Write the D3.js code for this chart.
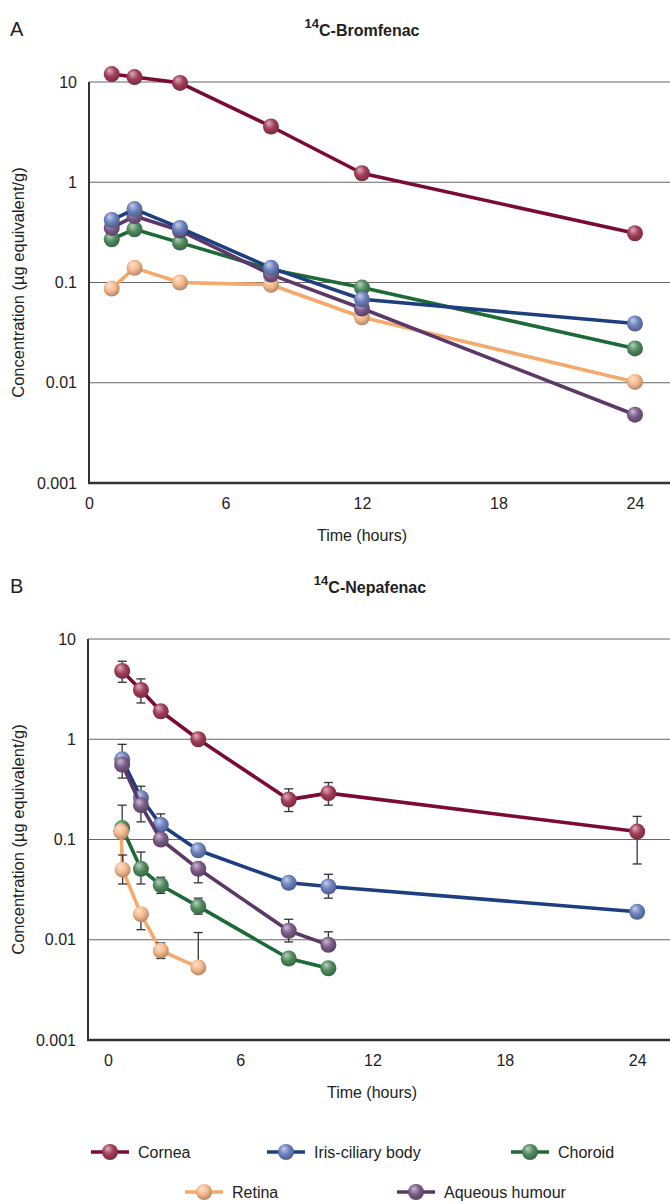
<!DOCTYPE html>
<html>
<head>
<meta charset="utf-8">
<script src="https://cdn.jsdelivr.net/npm/d3@7"></script>
<style>
  body { margin: 0; background: #fff; }
  text { font-family: "Liberation Sans", Arial, sans-serif; fill: #222; }
</style>
</head>
<body>
<svg id="chart" width="670" height="1204"></svg>
<script>
// tissues, in legend order
var tissues = ["Cornea", "Iris-ciliary body", "Choroid", "Retina", "Aqueous humour"];
var lineColors = ["#7b0a35", "#1d3f80", "#1c6b37", "#f3aa6c", "#5b3867"];
var ballColors = ["#a23c58", "#6b80be", "#4f8a5d", "#f6b98b", "#7b5b88"];

var xTicks = [0, 6, 12, 18, 24];
var yTicks = [0.001, 0.01, 0.1, 1, 10];
var yTickLabels = ["0.001", "0.01", "0.1", "1", "10"];

// panel A : 14C-Bromfenac
var timesA = [1, 2, 4, 8, 12, 24];
var corneaA = [12, 11.2, 9.8, 3.6, 1.23, 0.31];
var irisA = [0.42, 0.54, 0.35, 0.14, 0.068, 0.039];
var choroidA = [0.27, 0.34, 0.25, 0.135, 0.089, 0.022];
var retinaA = [0.087, 0.14, 0.1, 0.095, 0.045, 0.0102];
var aqueousA = [0.35, 0.46, 0.33, 0.12, 0.055, 0.0048];

// panel B : 14C-Nepafenac (with error bars, null = none drawn)
var timesB = [0.65, 1.5, 2.4, 4.1, 8.2, 10, 24];
var timesRetinaB = [0.6, 0.67, 1.5, 2.4, 4.1];
var corneaB = [4.8, 3.1, 1.9, 1.0, 0.25, 0.29, 0.12];
var corneaBlo = [3.7, 2.3, null, null, 0.19, 0.22, 0.057];
var corneaBhi = [6.0, 4.0, null, null, 0.32, 0.37, 0.17];
var irisB = [0.63, 0.26, 0.14, 0.078, 0.037, 0.034, 0.019];
var irisBlo = [null, null, null, null, null, 0.026, null];
var irisBhi = [0.89, 0.34, 0.18, null, null, 0.045, null];
var choroidB = [0.13, 0.051, 0.035, 0.0215, 0.0065, 0.0052];
var choroidBlo = [null, 0.036, 0.029, 0.018, null, null];
var choroidBhi = [0.22, 0.075, 0.042, 0.026, null, null];
var retinaB = [0.12, 0.05, 0.018, 0.0078, 0.0053];
var retinaBlo = [null, 0.036, 0.0126, 0.0065, null];
var retinaBhi = [null, 0.07, null, 0.0093, 0.0118];
var aqueousB = [0.56, 0.22, 0.10, 0.051, 0.0123, 0.0089];
var aqueousBlo = [0.41, 0.15, null, 0.037, 0.0095, null];
var aqueousBhi = [null, null, null, null, 0.016, 0.012];

var svg = d3.select("#chart");
var defs = svg.append("defs");

tissues.forEach((t, i) => {
  var base = d3.color(ballColors[i]);
  var g = defs.append("radialGradient")
    .attr("id", "ball" + i)
    .attr("cx", "45%").attr("cy", "40%").attr("r", "60%")
    .attr("fx", "35%").attr("fy", "28%");
  g.append("stop").attr("offset", "0%").attr("stop-color", d3.interpolateRgb(base, "#fff")(0.6));
  g.append("stop").attr("offset", "55%").attr("stop-color", base.formatHex());
  g.append("stop").attr("offset", "100%").attr("stop-color", base.darker(0.9).formatHex());
});

function mk(times, vals, lo, hi) {
  return vals.map((v, j) => ({
    t: times[j], v: v,
    lo: lo ? lo[j] : null, hi: hi ? hi[j] : null
  }));
}

function drawPanel(p) {
  var x = d3.scaleLinear().domain(p.xDomain).range([p.left, 670]);
  var y = d3.scaleLog().domain([0.001, 10]).range([p.bottom, p.top]);
  var g = svg.append("g");

  g.append("text").attr("x", 10).attr("y", p.top - 46)
    .style("font-size", "20px").text(p.letter);

  var title = g.append("text").attr("x", p.titleX).attr("y", p.top - 46)
    .attr("text-anchor", "middle").style("font-weight", "bold");
  title.append("tspan").style("font-size", "13px").attr("dy", -8).text("14");
  title.append("tspan").style("font-size", "16px").attr("dy", 8).text(p.title);

  // gridlines
  g.selectAll(".grid").data(yTicks.slice(1)).enter().append("line")
    .attr("x1", p.left).attr("x2", 670)
    .attr("y1", d => y(d)).attr("y2", d => y(d))
    .attr("stroke", "#666").attr("stroke-width", 1.2);

  var ya = g.append("g").attr("transform", `translate(${p.left},0)`)
    .call(d3.axisLeft(y).tickValues(yTicks).tickSize(0).tickPadding(12)
      .tickFormat((d, i) => yTickLabels[i]));
  ya.select(".domain").remove();
  ya.selectAll("text").style("font-size", "16px").style("font-family", "Liberation Sans, Arial").attr("fill", "#222");

  var xa = g.append("g").attr("transform", `translate(0,${p.bottom})`)
    .call(d3.axisBottom(x).tickValues(xTicks).tickSize(0).tickPadding(15));
  xa.select(".domain").remove();
  xa.selectAll("text").style("font-size", "16px").style("font-family", "Liberation Sans, Arial").attr("fill", "#222");

  g.append("line").attr("x1", p.left).attr("x2", p.left)
    .attr("y1", p.top).attr("y2", p.bottom + 1)
    .attr("stroke", "#333").attr("stroke-width", 2);
  g.append("line").attr("x1", p.left - 1).attr("x2", 670)
    .attr("y1", p.bottom).attr("y2", p.bottom)
    .attr("stroke", "#333").attr("stroke-width", 2.5);

  g.append("text").attr("x", p.xTitleX).attr("y", p.bottom + 58)
    .attr("text-anchor", "middle").style("font-size", "16px").text("Time (hours)");
  g.append("text")
    .attr("transform", `translate(24,${(p.top + p.bottom) / 2}) rotate(-90)`)
    .attr("text-anchor", "middle").style("font-size", "16.5px")
    .text("Concentration (µg equivalent/g)");

  var line = d3.line().x(d => x(d.t)).y(d => y(d.v));

  p.order.forEach(i => {
    var pts = p.series[i];
    var s = g.append("g");
    s.append("path").datum(pts).attr("d", line)
      .attr("fill", "none").attr("stroke", lineColors[i])
      .attr("stroke-width", 3.6).attr("stroke-linejoin", "round");

    pts.forEach(d => {
      [d.lo, d.hi].forEach(e => {
        if (e == null) return;
        s.append("line").attr("x1", x(d.t)).attr("x2", x(d.t))
          .attr("y1", y(d.v)).attr("y2", y(e))
          .attr("stroke", "#333").attr("stroke-width", 1.3);
        s.append("line").attr("x1", x(d.t) - 4.5).attr("x2", x(d.t) + 4.5)
          .attr("y1", y(e)).attr("y2", y(e))
          .attr("stroke", "#333").attr("stroke-width", 1.3);
      });
    });

    s.selectAll("circle").data(pts).enter().append("circle")
      .attr("cx", d => x(d.t)).attr("cy", d => y(d.v)).attr("r", 8)
      .attr("fill", `url(#ball${i})`);
  });
}

drawPanel({
  letter: "A", title: "C-Bromfenac", titleX: 362, xTitleX: 362,
  left: 89, top: 82, bottom: 483, xDomain: [0, 25.54],
  order: [3, 2, 4, 1, 0],
  series: [
    mk(timesA, corneaA), mk(timesA, irisA), mk(timesA, choroidA),
    mk(timesA, retinaA), mk(timesA, aqueousA)
  ]
});

drawPanel({
  letter: "B", title: "C-Nepafenac", titleX: 370, xTitleX: 372,
  left: 88, top: 639, bottom: 1040, xDomain: [-0.9, 25.49],
  order: [1, 4, 2, 3, 0],
  series: [
    mk(timesB, corneaB, corneaBlo, corneaBhi),
    mk(timesB, irisB, irisBlo, irisBhi),
    mk(timesB, choroidB, choroidBlo, choroidBhi),
    mk(timesRetinaB, retinaB, retinaBlo, retinaBhi),
    mk(timesB, aqueousB, aqueousBlo, aqueousBhi)
  ]
});

// legend
var legendPos = [[110, 1152], [286, 1152], [530, 1152], [204, 1192], [416, 1192]];
var lg = svg.append("g");
tissues.forEach((t, i) => {
  var [cx, cy] = legendPos[i];
  lg.append("line").attr("x1", cx - 19).attr("x2", cx + 19)
    .attr("y1", cy).attr("y2", cy)
    .attr("stroke", lineColors[i]).attr("stroke-width", 3.6);
  lg.append("circle").attr("cx", cx).attr("cy", cy).attr("r", 8)
    .attr("fill", `url(#ball${i})`);
  lg.append("text").attr("x", cx + 28).attr("y", cy + 6)
    .style("font-size", "16px").text(t);
});
</script>
</body>
</html>
